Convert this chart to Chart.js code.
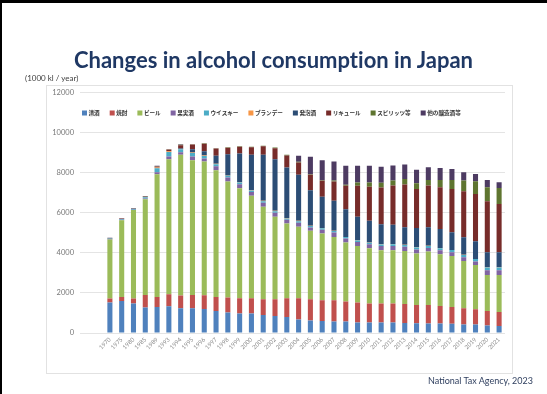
<!DOCTYPE html>
<html>
<head>
<meta charset="utf-8">
<script src="https://cdn.jsdelivr.net/npm/chart.js@4.4.1/dist/chart.umd.min.js"></script>
<style>
  html, body { margin: 0; padding: 0; background: #fff; }
  #wrap { position: relative; width: 547px; height: 394px; overflow: hidden; }
  #chart { position: absolute; left: 0; top: 0; }
  .edgeTop { position: absolute; left: 0; top: 0; width: 547px; height: 3px; background: #000; }
  .edgeLeft { position: absolute; left: 0; top: 0; width: 2px; height: 394px; background: #000; }
  #title { position: absolute; left: 0; top: 47px; width: 547px; text-align: center;
           font: bold 22px Lato, sans-serif; line-height: 26px; color: #1f3864; white-space: nowrap;
           font-variant-ligatures: none; }
  #unit { position: absolute; left: 25px; top: 73px; font: 8px Lato, sans-serif; color: #404040; }
  #source { position: absolute; left: 428px; top: 375px; font: 9px Lato, sans-serif; color: #2f3f5f; white-space: nowrap; }
</style>
</head>
<body>
<div id="wrap">
  <canvas id="chart" width="547" height="394"></canvas>
  <div class="edgeTop"></div>
  <div class="edgeLeft"></div>
  <div id="title">Changes in alcohol consumption in Japan</div>
  <div id="unit">(1000 kl / year)</div>
  <div id="source">National Tax Agency, 2023</div>
</div>
<script>
// fiscal years shown on the x axis
const years = ['1970','1975','1980','1985','1989','1993','1994','1995','1996','1997','1998','1999',
  '2000','2001','2002','2003','2004','2005','2006','2007','2008','2009','2010','2011','2012',
  '2013','2014','2015','2016','2017','2018','2019','2020','2021'];

// consumption by type, 1000 kl / year
const sake     = [1520,1600,1470,1270,1300,1330,1230,1230,1200,1100,1020,970,970,900,850,800,680,630,600,570,570,520,520,520,520,500,490,480,470,460,430,420,380,350];
const shochu   = [200,200,250,630,500,600,640,670,680,700,750,770,760,780,830,930,1050,1050,1030,1060,1000,1000,950,950,950,950,910,920,880,840,800,760,720,700];
const beer     = [2950,3830,4420,4780,6130,6750,7030,6730,6690,6330,5800,5490,5120,4620,4120,3740,3570,3420,3340,3170,2950,2830,2760,2660,2660,2650,2570,2670,2580,2550,2370,2220,1800,1850];
const fruit    = [20,20,20,40,100,130,120,180,150,200,200,200,190,200,200,180,200,170,190,220,200,200,200,210,210,210,200,180,200,180,180,170,230,230];
const whisky   = [30,40,40,60,200,230,150,180,120,100,80,80,80,80,80,70,80,70,70,70,70,70,80,80,90,90,100,100,100,110,120,120,140,140];
const brandy   = [5,5,5,10,30,30,20,20,20,20,20,20,20,20,20,20,20,10,10,10,10,10,10,10,10,10,10,10,10,10,10,10,10,10];
const happoshu = [0,0,0,0,0,0,20,170,210,400,1060,1440,1760,2300,2580,2530,2300,1780,1560,1500,1380,1170,1080,1000,970,870,960,920,950,880,870,880,750,750];
const liqueur  = [20,20,20,20,60,90,170,230,380,360,320,330,380,420,550,600,620,770,800,970,1170,1550,1700,1840,1950,2130,1950,2080,2090,2160,2300,2360,2550,2410];
const spirits  = [5,5,5,10,10,20,20,20,20,20,20,20,20,30,30,30,30,30,30,40,50,170,220,230,250,280,290,280,360,450,530,640,700,800];
const otherBrew = [10,10,10,20,20,0,20,0,0,0,0,0,0,0,0,0,300,870,1000,960,950,830,830,800,750,720,670,640,600,550,420,360,360,290];

const seriesNames = ['清酒','焼酎','ビール','果実酒','ウイスキー','ブランデー','発泡酒','リキュール','スピリッツ等','他の醸造酒等'];
const seriesData = [sake, shochu, beer, fruit, whisky, brandy, happoshu, liqueur, spirits, otherBrew];
const seriesColors = ['#4f81bd','#c0504d','#9bbb59','#8064a2','#4bacc6','#f79646','#2c4d75','#772c2a','#5f7530','#4d3b62'];

// light frame around the whole chart
const chartFrame = {
  id: 'chartFrame',
  beforeDraw(chart) {
    const ctx = chart.ctx;
    ctx.save();
    ctx.strokeStyle = '#e2e2e2';
    ctx.lineWidth = 1;
    ctx.strokeRect(46.5, 85.5, 466, 288);
    ctx.restore();
  }
};

// legend row drawn inside the plot, under the top gridline
const insideLegend = {
  id: 'insideLegend',
  afterDatasetsDraw(chart) {
    const ctx = chart.ctx;
    ctx.save();
    ctx.font = 'bold 5.6px "Noto Sans CJK JP"';
    ctx.textBaseline = 'middle';
    let x = 82;
    const y = 113;
    chart.data.datasets.forEach(ds => {
      ctx.fillStyle = ds.backgroundColor;
      ctx.fillRect(x, y - 2.5, 5, 5);
      x += 6.5;
      ctx.fillStyle = '#333';
      ctx.fillText(ds.label, x, y);
      x += ctx.measureText(ds.label).width + 10;
    });
    ctx.restore();
  }
};

new Chart(document.getElementById('chart'), {
  type: 'bar',
  data: {
    labels: years,
    datasets: seriesNames.map((name, i) => ({
      label: name,
      data: seriesData[i],
      backgroundColor: seriesColors[i],
      categoryPercentage: 1,
      barPercentage: 0.43
    }))
  },
  options: {
    responsive: false,
    animation: false,
    layout: { padding: { left: 40, top: 92.7, right: 42, bottom: 31 } },
    plugins: {
      legend: { display: false },
      tooltip: { enabled: false }
    },
    scales: {
      x: {
        stacked: true,
        grid: { display: false, drawTicks: false },
        border: { display: false },
        ticks: {
          autoSkip: false, minRotation: 45, maxRotation: 45, padding: 3,
          font: { size: 6, family: 'Lato' }, color: '#8a8a8a'
        },
        afterFit(scale) { scale.height = 30; }
      },
      y: {
        stacked: true,
        min: 0,
        max: 12000,
        ticks: {
          stepSize: 2000, padding: 6, font: { size: 7.5, family: 'Lato' }, color: '#777',
          callback: value => String(value)
        },
        grid: { color: '#e4e4e4', tickLength: 24 },
        border: { display: false },
        afterFit(scale) { scale.width = 64; }
      }
    }
  },
  plugins: [chartFrame, insideLegend]
});
</script>
</body>
</html>
